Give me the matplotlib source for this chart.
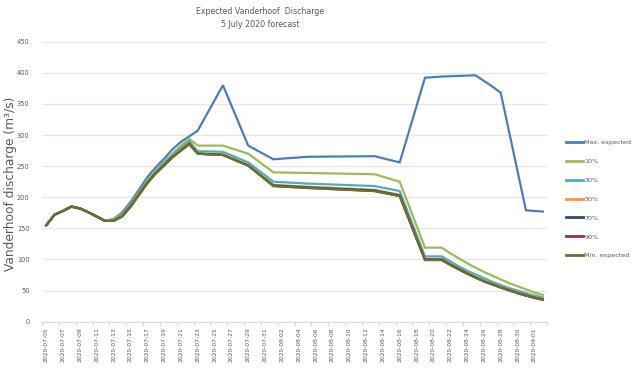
import numpy as np
import pandas as pd
import matplotlib
matplotlib.use("Agg")
import matplotlib.pyplot as plt
import matplotlib.dates as mdates

# ---- data ----
day_offsets = list(range(0, 19)) + [21, 24, 27, 31, 39, 42, 45, 47] + list(range(48, 60))
dates = pd.Timestamp("2020-07-05") + pd.to_timedelta(day_offsets, unit="D")

observed = [155, 172, 178, 185, 182, 176, 169, 162]

max_expected = observed + [165, 175, 192, 212, 232, 248, 262, 277, 289, 298, 307,
                           380, 283, 261, 265, 266, 256, 392, 394,
                           394.5, 395, 395.5, 396, 387, 378, 368, 305, 242, 179, 178, 177]
p10 = observed + [164, 172, 188, 208, 227, 243, 257, 270, 283, 294, 283,
                  283, 270, 240, 239, 237, 225, 119, 119,
                  110, 102, 94, 87, 80, 74, 68, 62, 57, 52, 47, 43]
p30 = observed + [163, 171, 187, 206, 225, 241, 255, 268, 279, 290, 274,
                  273, 256, 225, 222, 218, 210, 105, 105,
                  97, 89, 82, 76, 70, 64, 59, 54, 50, 46, 42, 39]
p50 = observed + [163, 170, 186, 205, 224, 240, 253, 266, 276, 287, 271,
                  269, 252, 220, 217, 212, 204, 101, 101,
                  93, 86, 79, 72, 66, 61, 56, 52, 47, 43, 40, 37]
p70 = observed + [162, 169, 185, 204, 223, 239, 252, 265, 275, 286, 270,
                  268, 251, 219, 216, 211, 203, 100, 100,
                  92, 85, 78, 71, 65, 60, 55, 51, 46, 42, 39, 36]
p90 = observed + [162, 169, 185, 204, 223, 238, 251, 264, 275, 286, 270,
                  268, 251, 218, 215, 210, 202, 99.5, 99.5,
                  91.5, 84.5, 77.5, 71, 65, 60, 55, 50.5, 46, 42, 38.5, 35.5]
min_expected = observed + [162, 169, 184, 203, 222, 238, 251, 264, 275, 285, 270,
                           268, 251, 218, 215, 210, 202, 99, 99,
                           91, 84, 77, 71, 65, 60, 55, 50, 46, 42, 38, 35]

series_names = ["Max. expected", "10%", "30%", "50%", "70%", "90%", "Min. expected"]
series_values = [max_expected, p10, p30, p50, p70, p90, min_expected]
series_colors = ["#4A7EBB", "#9BBB59", "#4BACC6", "#F79646", "#2C4D75", "#953735", "#5F7530"]

title = "Expected Vanderhoof  Discharge\n5 July 2020 forecast"
ylabel = "Vanderhoof discharge (m³/s)"

# ---- plot ----
fig = plt.figure(figsize=(6.4, 3.8), dpi=100)
ax = fig.add_axes([42 / 640, 1 - 321.7 / 380, (547 - 42) / 640, (321.7 - 41.7) / 380])

for name, vals, col in zip(series_names, series_values, series_colors):
    ax.plot(dates, vals, color=col, lw=1.6, label=name, solid_joinstyle="miter")

start = mdates.date2num(pd.Timestamp("2020-07-05"))
ax.set_xlim(start - 0.5, start + 59.5)
ax.set_ylim(0, 450)
ax.set_yticks(np.arange(0, 451, 50))
ax.set_xticks(start + np.arange(0, 59, 2))
ax.set_xticks(start - 0.5 + np.arange(0, 61, 2), minor=True)
ax.xaxis.set_major_formatter(mdates.DateFormatter("%Y-%m-%d"))

grey = "#595959"
ax.tick_params(axis="x", which="major", length=0, labelsize=4.3, labelcolor=grey,
               rotation=90, pad=4)
ax.tick_params(axis="x", which="minor", length=3, color="#d9d9d9", width=0.8)
ax.tick_params(axis="y", length=0, labelsize=4.8, labelcolor=grey, pad=9)

ax.grid(axis="y", color="#e6e6e6", lw=1.0)
ax.set_axisbelow(True)
for s in ["top", "right", "left"]:
    ax.spines[s].set_visible(False)
ax.spines["bottom"].set_color("#d9d9d9")
ax.spines["bottom"].set_linewidth(0.8)

fig.text(11 / 640, 1 - 184 / 380, ylabel, rotation=90, ha="center", va="center",
         fontsize=8.8, color=grey)
fig.text(260 / 640, 1 - 18 / 380, title, ha="center", va="center",
         fontsize=5.7, color=grey, linespacing=1.6)

leg = fig.legend(loc="center left", bbox_to_anchor=(566 / 640, 1 - 199 / 380),
                 frameon=False, fontsize=4.6, handlelength=2.7, handletextpad=0.15,
                 labelspacing=2.1, borderpad=0, borderaxespad=0)
for t in leg.get_texts():
    t.set_color(grey)
for h in leg.get_lines():
    h.set_linewidth(2.0)

fig.savefig("out.png", dpi=100)
